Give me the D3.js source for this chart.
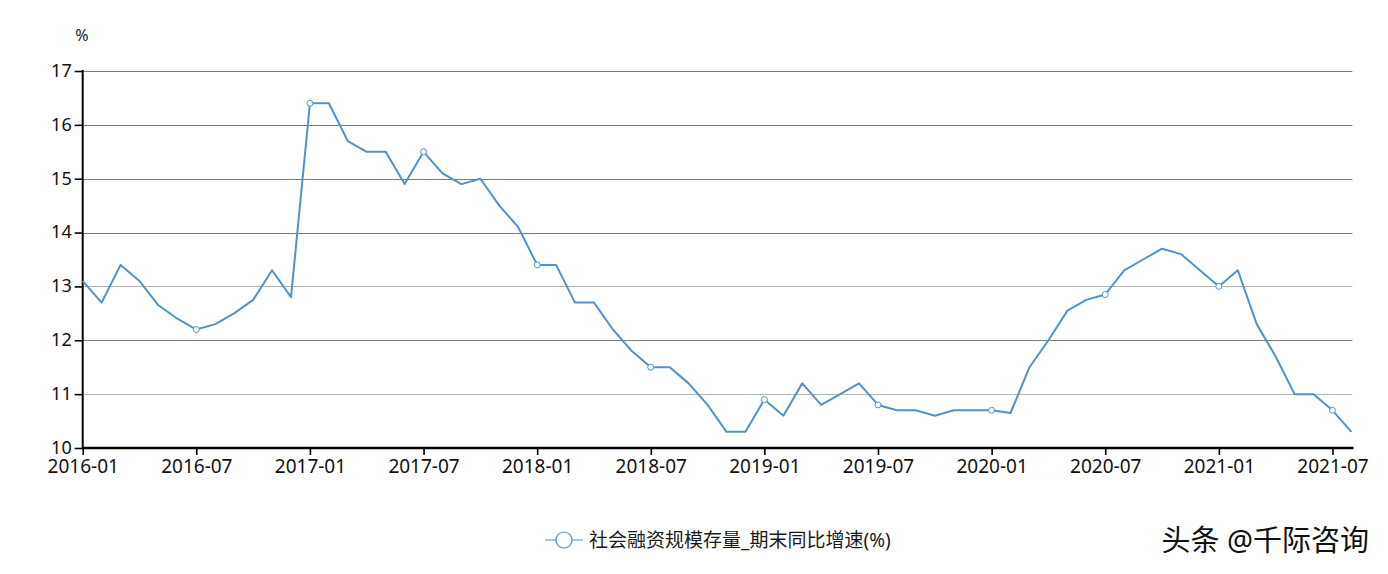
<!DOCTYPE html>
<html>
<head>
<meta charset="utf-8">
<script src="https://cdn.jsdelivr.net/npm/d3@7/dist/d3.min.js"></script>
<style>
  html, body { margin: 0; padding: 0; background: #ffffff; }
  svg { display: block; }
</style>
</head>
<body>
<svg id="chart" width="1388" height="574"></svg>
<script>
// ---- data ----
const months = [
  "2016-01","2016-02","2016-03","2016-04","2016-05","2016-06","2016-07","2016-08","2016-09","2016-10","2016-11","2016-12",
  "2017-01","2017-02","2017-03","2017-04","2017-05","2017-06","2017-07","2017-08","2017-09","2017-10","2017-11","2017-12",
  "2018-01","2018-02","2018-03","2018-04","2018-05","2018-06","2018-07","2018-08","2018-09","2018-10","2018-11","2018-12",
  "2019-01","2019-02","2019-03","2019-04","2019-05","2019-06","2019-07","2019-08","2019-09","2019-10","2019-11","2019-12",
  "2020-01","2020-02","2020-03","2020-04","2020-05","2020-06","2020-07","2020-08","2020-09","2020-10","2020-11","2020-12",
  "2021-01","2021-02","2021-03","2021-04","2021-05","2021-06","2021-07","2021-08"
];
const growth = [
  13.1, 12.7, 13.4, 13.1, 12.65, 12.4, 12.2, 12.3, 12.5, 12.75, 13.3, 12.8,
  16.4, 16.4, 15.7, 15.5, 15.5, 14.9, 15.5, 15.1, 14.9, 15.0, 14.5, 14.1,
  13.4, 13.4, 12.7, 12.7, 12.2, 11.8, 11.5, 11.5, 11.2, 10.8, 10.3, 10.3,
  10.9, 10.6, 11.2, 10.8, 11.0, 11.2, 10.8, 10.7, 10.7, 10.6, 10.7, 10.7,
  10.7, 10.65, 11.5, 12.0, 12.55, 12.75, 12.85, 13.3, 13.5, 13.7, 13.6, 13.3,
  13.0, 13.3, 12.3, 11.7, 11.0, 11.0, 10.7, 10.3
];
const xTickLabels = ["2016-01","2016-07","2017-01","2017-07","2018-01","2018-07",
                     "2019-01","2019-07","2020-01","2020-07","2021-01","2021-07"];
const yTicks = [10, 11, 12, 13, 14, 15, 16, 17];
const seriesName = "社会融资规模存量_期末同比增速(%)";
const unitLabel = "%";
const credit = "头条 @千际咨询";

// ---- layout ----
const svg = d3.select("#chart");
const plotLeft = 82.7, plotRight = 1351.4, plotTop = 71, plotBottom = 448;
const lineColor = "#4f93cc";
const font = "'Noto Sans', 'Noto Sans CJK SC', sans-serif";

const x = d3.scalePoint().domain(months).range([plotLeft, plotRight]);
const y = d3.scaleLinear().domain([10, 17]).range([plotBottom, plotTop]);

// grid lines
svg.append("g")
  .selectAll("line")
  .data(yTicks.filter(d => d > 10))
  .join("line")
  .attr("x1", plotLeft).attr("x2", plotRight + 1)
  .attr("y1", d => Math.round(y(d)) + 0.5).attr("y2", d => Math.round(y(d)) + 0.5)
  .attr("stroke", d => (d === 13 || d === 11) ? "#b4b4b4" : "#7a7a7a")
  .attr("stroke-width", 1);

// y axis
const yAxis = svg.append("g")
  .attr("transform", `translate(${plotLeft},0)`)
  .call(d3.axisLeft(y).tickValues(yTicks).tickSize(8).tickPadding(3).tickFormat(d3.format("d")));
yAxis.select(".domain").attr("stroke", "#000").attr("stroke-width", 2)
  .attr("d", `M0,${plotTop - 1}V${plotBottom}`);
yAxis.selectAll(".tick line").attr("stroke", "#000").attr("stroke-width", 1.6);
yAxis.selectAll(".tick text")
  .attr("font-family", font).attr("font-size", 18).attr("fill", "#111")
  .attr("dy", "0.3em");

// x axis
const xAxis = svg.append("g")
  .attr("transform", `translate(0,${plotBottom})`)
  .call(d3.axisBottom(x).tickValues(xTickLabels).tickSize(7).tickPadding(5));
xAxis.select(".domain").attr("stroke", "#000").attr("stroke-width", 2.5)
  .attr("d", `M${plotLeft},0H${plotRight + 2}`);
xAxis.selectAll(".tick line").attr("stroke", "#000").attr("stroke-width", 1.6);
xAxis.selectAll(".tick text")
  .attr("font-family", font).attr("font-size", 19).attr("fill", "#111");

// unit label
svg.append("text")
  .attr("x", 82).attr("y", 41)
  .attr("text-anchor", "middle")
  .attr("font-family", font).attr("font-size", 16).attr("fill", "#222")
  .text(unitLabel);

// line
const line = d3.line()
  .x((d, i) => x(months[i]))
  .y(d => y(d));
svg.append("path")
  .datum(growth)
  .attr("fill", "none")
  .attr("stroke", lineColor)
  .attr("stroke-width", 2)
  .attr("stroke-linejoin", "round")
  .attr("d", line);

// markers at tick months
svg.append("g")
  .selectAll("circle")
  .data(months.map((m, i) => ({ m, v: growth[i] })).filter(d => xTickLabels.includes(d.m) && d.m !== "2016-01"))
  .join("circle")
  .attr("cx", d => x(d.m)).attr("cy", d => y(d.v))
  .attr("r", 3)
  .attr("fill", "#fff")
  .attr("stroke", lineColor)
  .attr("stroke-width", 1);

// legend
const lg = svg.append("g");
lg.append("line")
  .attr("x1", 545).attr("x2", 583).attr("y1", 540).attr("y2", 540)
  .attr("stroke", lineColor).attr("stroke-width", 1.2);
lg.append("circle")
  .attr("cx", 564).attr("cy", 540).attr("r", 8)
  .attr("fill", "#fff").attr("stroke", lineColor).attr("stroke-width", 1.2);
lg.append("text")
  .attr("x", 589).attr("y", 547)
  .attr("font-family", font).attr("font-size", 19).attr("fill", "#1a1a1a")
  .text(seriesName);

// credit
svg.append("text")
  .attr("x", 1369).attr("y", 551)
  .attr("text-anchor", "end")
  .attr("font-family", font).attr("font-size", 29).attr("fill", "#111")
  .text(credit);
</script>
</body>
</html>
